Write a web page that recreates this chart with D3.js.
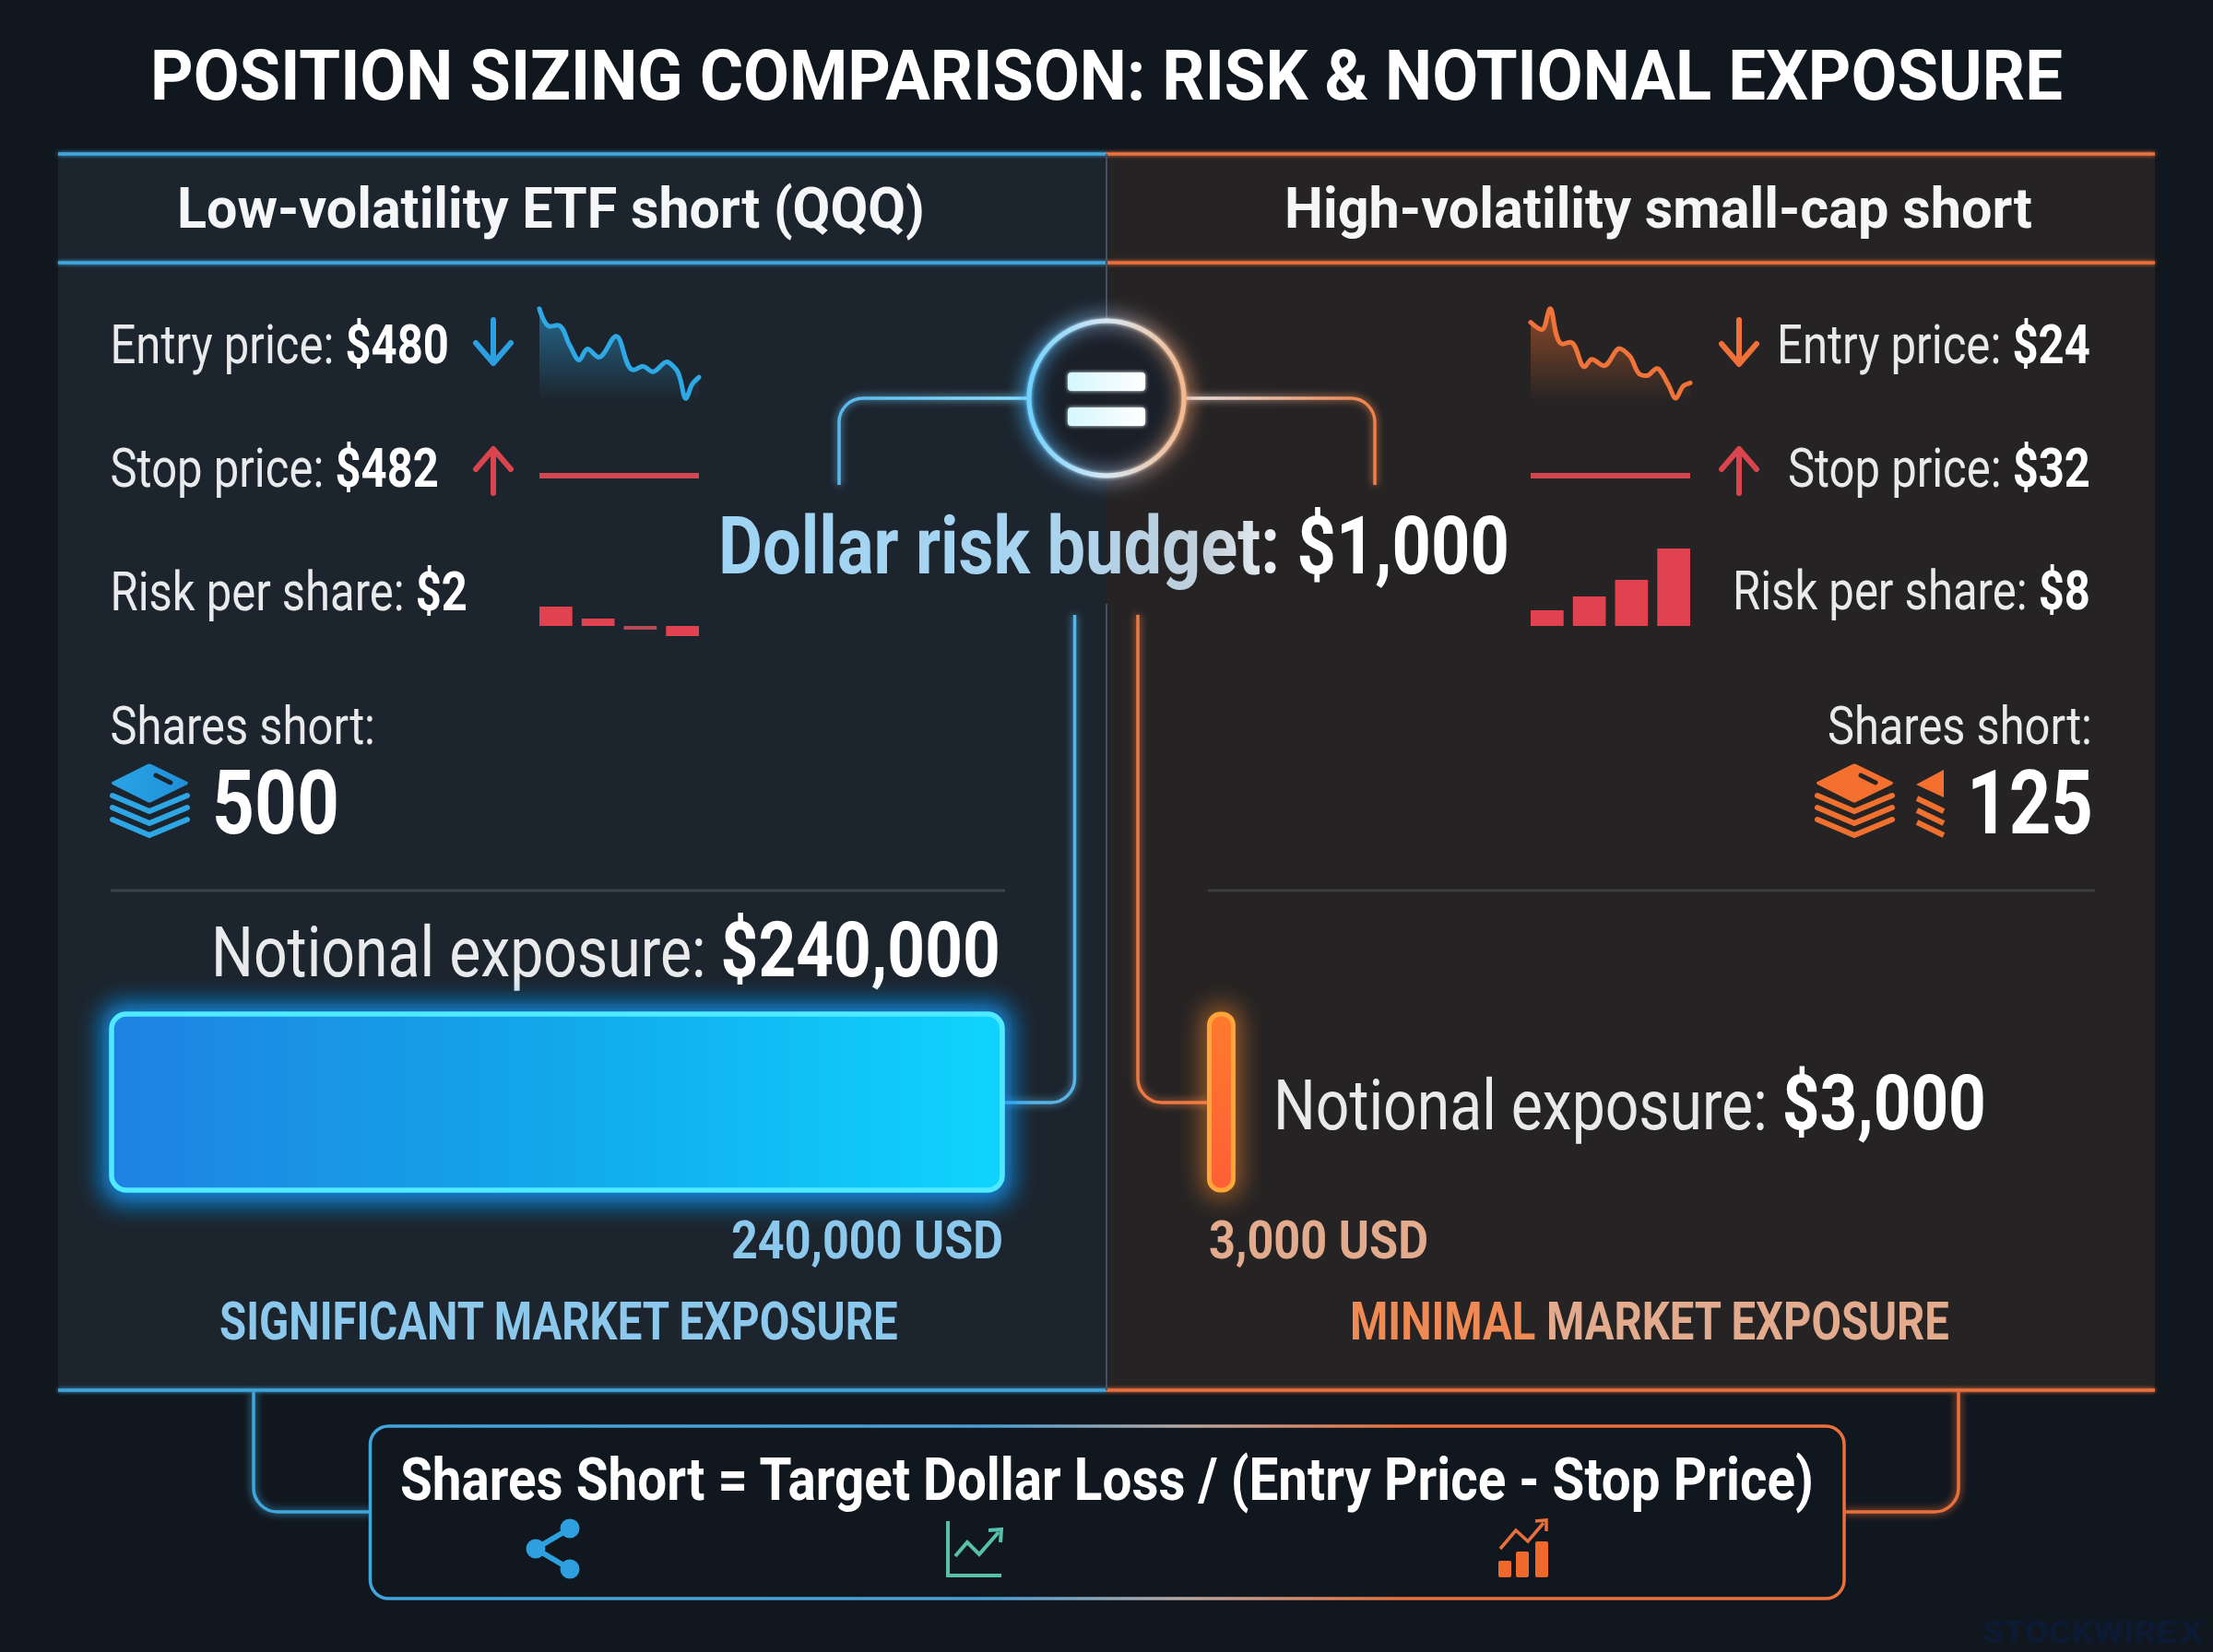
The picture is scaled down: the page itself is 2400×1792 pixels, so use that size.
<!DOCTYPE html>
<html>
<head>
<meta charset="utf-8">
<script src="https://cdn.jsdelivr.net/npm/d3@7"></script>
<style>
  html, body { margin: 0; padding: 0; background: #11171f; }
  svg { display: block; }
  text { font-family: Roboto, sans-serif; }
</style>
</head>
<body>
<script>
// DATA
const chartTitle = "POSITION SIZING COMPARISON: RISK & NOTIONAL EXPOSURE"
const sideNames = ["Low-volatility ETF short (QQQ)", "High-volatility small-cap short"]
const entryPrices = [480, 24]
const stopPrices = [482, 32]
const riskPerShare = [2, 8]
const sharesShort = [500, 125]
const notional = [240000, 3000]
const dollarBudget = 1000
const formula = "Shares Short = Target Dollar Loss / (Entry Price - Stop Price)"

// sparkline readings: session time 0-100, price index 0-100
const sparkTimeLow = [0, 6, 12, 19, 25, 30, 37, 48, 59, 65, 71, 80, 86, 92, 96, 100]
const sparkPriceLow = [100, 81, 82, 60, 44, 56, 47, 70, 33, 37, 31, 42, 33, 2, 18, 25]
const sparkTimeHigh = [0, 7, 12, 20, 25, 34, 38, 46, 56, 62, 69, 73, 79, 86, 91, 96, 100]
const sparkPriceHigh = [84, 76, 99, 60, 62, 35, 43, 36, 55, 47, 26, 25, 33, 16, 0, 14, 17]
const riskBarsLow = [21, 8, -4, -11]
const riskBarsHigh = [17, 32, 50, 84]

const [width, height] = [2400, 1792]
const colors = {
    bg: "#11171f", panelL: "#1c242d", panelR: "#252324",
    blue: "#3fa6dc", orange: "#e8703c", red: "#d9444f",
    softBlue: "#8cc8ec", softOrange: "#e2ab8e", white: "#ffffff", grey: "#e8eaec"
}
const money = d3.format("$,")
const plain = d3.format(",")

const svg = d3.select("body").append("svg")
    .attr("width", width).attr("height", height)
    .attr("viewBox", [0, 0, width, height])
const defs = svg.append("defs")

function gradient(id, stops, x1, y1, x2, y2) {
    const g = defs.append("linearGradient").attr("id", id)
        .attr("gradientUnits", "userSpaceOnUse")
        .attr("x1", x1).attr("y1", y1).attr("x2", x2).attr("y2", y2)
    stops.forEach(s => g.append("stop").attr("offset", s[0]).attr("stop-color", s[1]).attr("stop-opacity", s[2] ?? 1))
}
function glowFilter(id, dev) {
    const f = defs.append("filter").attr("id", id).attr("filterUnits", "userSpaceOnUse")
        .attr("x", 0).attr("y", 0).attr("width", width).attr("height", height)
    f.append("feGaussianBlur").attr("in", "SourceGraphic").attr("stdDeviation", dev).attr("result", "b")
    const m = f.append("feMerge")
    m.append("feMergeNode").attr("in", "b")
    m.append("feMergeNode").attr("in", "SourceGraphic")
}
glowFilter("glow2", 2)
glowFilter("glow4", 4)
defs.append("filter").attr("id", "blur14").attr("filterUnits", "userSpaceOnUse")
    .attr("x", 0).attr("y", 0).attr("width", width).attr("height", height)
    .append("feGaussianBlur").attr("stdDeviation", 14)
defs.append("filter").attr("id", "blur10").attr("filterUnits", "userSpaceOnUse")
    .attr("x", 0).attr("y", 0).attr("width", width).attr("height", height)
    .append("feGaussianBlur").attr("stdDeviation", 10)

gradient("barBlue", [[0, "#1f82e2"], [0.5, "#12a8ea"], [1, "#0fd4ff"]], 120, 0, 1088, 0)
gradient("barOrange", [[0, "#ff7a2e"], [1, "#ff5f35"]], 0, 1098, 0, 1293)
gradient("boxStroke", [[0, "#3fa6dc"], [0.42, "#4a9fd4"], [0.55, "#b9a8a4"], [0.7, "#e8703c"], [1, "#e8703c"]], 402, 0, 2000, 0)
gradient("ring", [[0, "#6fd2ff"], [0.5, "#d8e8f4"], [1, "#f4b88c"]], 1115, 0, 1285, 0)
gradient("ringHalo", [[0, "#3fb6ff"], [0.5, "#8ea4c8"], [1, "#f09a66"]], 1115, 0, 1285, 0)
gradient("linkL", [[0, "#5ab6ea"], [1, "#8fe2ff"]], 910, 0, 1115, 0)
gradient("linkR", [[0, "#e8e4e6"], [1, "#ec8048"]], 1285, 0, 1491, 0)
gradient("sparkFillL", [[0, "#2a8fc2", 0.6], [1, "#2a8fc2", 0]], 0, 340, 0, 436)
gradient("sparkFillR", [[0, "#c8602a", 0.6], [1, "#c8602a", 0]], 0, 340, 0, 436)
gradient("stackTopL", [[0, "#2aa4e6"], [1, "#1f8fd8"]], 120, 0, 205, 0)
gradient("equals", [[0, "#d6f6ff"], [1, "#ffffff"]], 1158, 0, 1242, 0)
// local text units, the budget line gets measured below
gradient("budgetText", [[0, "#9fd4f4"], [0.4, "#a8d4f0"], [0.62, "#c2cfdb"], [0.74, "#ffffff"], [1, "#ffffff"]], 0, 0, 1000, 0)

// squeeze the wider Roboto down to the condensed look of the picture
function fit(t, x0, x1, y) {
    const natural = t.node().getComputedTextLength()
    t.attr("transform", `translate(${x0},${y}) scale(${(x1 - x0) / natural},1)`)
    return t
}
function label(g, str, x0, x1, y, size, weight, fill) {
    const t = g.append("text")
        .attr("font-size", size).attr("font-weight", weight).attr("fill", fill)
        .text(str)
    return fit(t, x0, x1, y)
}
// plain words + bold figure on one text line
function mixed(g, a, b, x0, x1, y, size, sizeB, weightA = 400, fillA = colors.grey, fillB = colors.white) {
    const t = g.append("text").attr("font-size", size)
    t.append("tspan").attr("font-weight", weightA).attr("fill", fillA).text(a + " ")
    t.append("tspan").attr("font-weight", 700).attr("font-size", sizeB).attr("fill", fillB).text(b)
    return fit(t, x0, x1, y)
}
function elbow(pts, r) {
    const p = d3.path()
    p.moveTo(pts[0][0], pts[0][1])
    p.arcTo(pts[1][0], pts[1][1], pts[2][0], pts[2][1], r)
    p.lineTo(pts[2][0], pts[2][1])
    return p.toString()
}

// BACKGROUND + PANELS
svg.append("rect").attr("width", width).attr("height", height).attr("fill", colors.bg)
const panels = svg.append("g").attr("id", "panels")
panels.append("rect").attr("x", 63).attr("y", 167).attr("width", 1137).attr("height", 1341).attr("fill", colors.panelL)
panels.append("rect").attr("x", 1200).attr("y", 167).attr("width", 1137).attr("height", 1341).attr("fill", colors.panelR)
const rules = [
    [63, 1200, 167, colors.blue], [63, 1200, 285, colors.blue], [63, 1200, 1508, colors.blue],
    [1200, 2337, 167, colors.orange], [1200, 2337, 285, colors.orange], [1200, 2337, 1508, colors.orange]
]
panels.selectAll("line.rule").data(rules).join("line").attr("class", "rule")
    .attr("x1", d => d[0]).attr("x2", d => d[1]).attr("y1", d => d[2]).attr("y2", d => d[2])
    .attr("stroke", d => d[3]).attr("stroke-width", 3.5).attr("filter", "url(#glow2)")
panels.append("line").attr("x1", 1200).attr("x2", 1200).attr("y1", 167).attr("y2", 346).attr("stroke", "#46505c").attr("stroke-width", 2)
panels.append("line").attr("x1", 1200).attr("x2", 1200).attr("y1", 655).attr("y2", 1508).attr("stroke", "#46505c").attr("stroke-width", 2)
panels.append("line").attr("x1", 120).attr("x2", 1090).attr("y1", 966).attr("y2", 966).attr("stroke", "#3b424a").attr("stroke-width", 3)
panels.append("line").attr("x1", 1310).attr("x2", 2272).attr("y1", 966).attr("y2", 966).attr("stroke", "#3f3e3f").attr("stroke-width", 3)

// TITLE + HEADERS
const head = svg.append("g").attr("id", "headings")
label(head, chartTitle, 163, 2237, 108, 76, 700, colors.white)
label(head, sideNames[0], 192, 1003, 247, 61, 700, "#f4f6f8")
label(head, sideNames[1], 1393, 2204, 247, 61, 700, "#f4f6f8")

// PRICE ROWS
const rowPos = [
    [119.5, 487, 394], [119.5, 476, 528], [119.5, 507, 662],
    [1927, 2267, 394], [1939, 2267, 528], [1879, 2267, 661]
]
const rowText = [
    ["Entry price:", entryPrices[0]], ["Stop price:", stopPrices[0]], ["Risk per share:", riskPerShare[0]],
    ["Entry price:", entryPrices[1]], ["Stop price:", stopPrices[1]], ["Risk per share:", riskPerShare[1]]
]
const rows = svg.append("g").attr("id", "rows")
rowText.forEach((d, i) => {
    const p = rowPos[i]
    mixed(rows, d[0], money(d[1]), p[0], p[1], p[2], 59, 59)
})

// ARROWS
function arrow(g, x, yTail, yTip, color) {
    const dir = yTip > yTail ? -1 : 1
    g.append("path")
        .attr("d", `M${x},${yTail}L${x},${yTip}M${x - 19},${yTip + dir * 22}L${x},${yTip}L${x + 19},${yTip + dir * 22}`)
        .attr("fill", "none").attr("stroke", color).attr("stroke-width", 6)
        .attr("stroke-linecap", "round").attr("stroke-linejoin", "round")
}
const arrows = svg.append("g").attr("id", "arrows")
arrow(arrows, 535, 347, 394, "#2b9fe0")
arrow(arrows, 535, 535, 487, colors.red)
arrow(arrows, 1886, 347, 395, "#f0703a")
arrow(arrows, 1886, 535, 487, colors.red)

// SPARKLINES
function spark(id, times, prices, x0, x1, y0, y1, color, fill) {
    const g = svg.append("g").attr("id", id)
    const x = d3.scaleLinear().domain([0, 100]).range([x0, x1])
    const y = d3.scaleLinear().domain([0, 100]).range([y0, y1])
    const pts = times.map((t, i) => [t, prices[i]])
    g.append("path").datum(pts).attr("fill", fill)
        .attr("d", d3.area().x(d => x(d[0])).y0(y0 + 2).y1(d => y(d[1])))
    g.append("path").datum(pts).attr("fill", "none").attr("stroke", color).attr("stroke-width", 5)
        .attr("stroke-linejoin", "round").attr("stroke-linecap", "round")
        .attr("d", d3.line().x(d => x(d[0])).y(d => y(d[1])).curve(d3.curveCatmullRom.alpha(0.9)))
}
spark("sparkLow", sparkTimeLow, sparkPriceLow, 585, 758, 434, 335, "#2ea9e6", "url(#sparkFillL)")
spark("sparkHigh", sparkTimeHigh, sparkPriceHigh, 1660, 1833, 432, 334, "#f0743a", "url(#sparkFillR)")

// STOP LINES
function stopLine(price, x0, x1) {
    const y = d3.scaleLinear().domain([price - 1, price + 1]).range([526, 506])
    svg.append("line").attr("x1", x0).attr("x2", x1).attr("y1", y(price)).attr("y2", y(price))
        .attr("stroke", "#d2464f").attr("stroke-width", 6)
}
stopLine(stopPrices[0], 585, 758)
stopLine(stopPrices[1], 1660, 1833)

// RISK BARS
function riskBars(id, values, x0, x1, baseline) {
    const x = d3.scaleBand().domain(d3.range(values.length)).range([x0, x1]).paddingInner(0.22)
    const y = d3.scaleLinear().domain([0, 100]).range([baseline, baseline - 100])
    svg.append("g").attr("id", id).selectAll("rect").data(values).join("rect")
        .attr("x", (d, i) => x(i)).attr("width", x.bandwidth())
        .attr("y", d => Math.min(y(0), y(d))).attr("height", d => Math.abs(y(d) - y(0)))
        .attr("fill", d => d === -4 ? "#b84a55" : "#e0434f")
}
riskBars("riskLow", riskBarsLow, 585, 758, 679)
riskBars("riskHigh", riskBarsHigh, 1660, 1833, 679)

// SHARES
const shareText = svg.append("g").attr("id", "shares")
label(shareText, "Shares short:", 119.5, 407, 807, 58, 400, colors.grey)
label(shareText, "Shares short:", 1982, 2269, 807, 58, 400, colors.grey)
label(shareText, plain(sharesShort[0]), 230, 368, 904, 96, 700, colors.white)
label(shareText, plain(sharesShort[1]), 2133, 2270, 904, 96, 700, colors.white)

function stack(dx, top, line, slot) {
    const g = svg.append("g").attr("transform", `translate(${dx},0)`)
    g.append("path").attr("d", "M122,848Q120,849 122,851L160,870Q162,871 164,870L203,851Q205,849 203,848L164,829Q162,828 160,829Z").attr("fill", top)
    g.append("line").attr("x1", 169).attr("y1", 841).attr("x2", 185).attr("y2", 849)
        .attr("stroke", slot).attr("stroke-width", 5).attr("stroke-linecap", "round")
    ;[863, 876, 889].forEach(y => {
        g.append("path").attr("d", `M122,${y}L162,${y + 17}L203,${y}`)
            .attr("fill", "none").attr("stroke", line).attr("stroke-width", 6)
            .attr("stroke-linecap", "round").attr("stroke-linejoin", "round")
    })
}
stack(0, "url(#stackTopL)", "#2ea6e4", colors.panelL)
stack(1849, "#f56f2e", "#f07030", colors.panelR)
// the cut-off little stack next to 125
const cut = svg.append("g").attr("id", "stackCut")
cut.append("path").attr("d", "M2078,851L2108,835L2108,865Z").attr("fill", "#f56f2e")
;[866, 879, 892].forEach(y => {
    cut.append("path").attr("d", `M2079,${y}L2108,${y + 14}`).attr("fill", "none")
        .attr("stroke", "#f07030").attr("stroke-width", 6)
})

// CONNECTORS
const links = svg.append("g").attr("id", "links").attr("fill", "none")
links.append("path").attr("d", elbow([[910, 526], [910, 432], [1120, 432]], 26))
    .attr("stroke", "url(#linkL)").attr("stroke-width", 3.5).attr("filter", "url(#glow4)")
links.append("path").attr("d", elbow([[1491, 526], [1491, 432], [1280, 432]], 26))
    .attr("stroke", "url(#linkR)").attr("stroke-width", 3.5).attr("filter", "url(#glow4)")
links.append("path").attr("d", elbow([[1165.5, 667], [1165.5, 1196], [1088, 1196]], 26))
    .attr("stroke", "#5ab4e6").attr("stroke-width", 3.5).attr("filter", "url(#glow4)")
links.append("path").attr("d", elbow([[1234, 667], [1234, 1196], [1312, 1196]], 26))
    .attr("stroke", "#ec7a44").attr("stroke-width", 3.5).attr("filter", "url(#glow4)")
links.append("path").attr("d", elbow([[275, 1510], [275, 1640], [403, 1640]], 26))
    .attr("stroke", colors.blue).attr("stroke-width", 3.5).attr("filter", "url(#glow4)")
links.append("path").attr("d", elbow([[2124, 1510], [2124, 1640], [2000, 1640]], 26))
    .attr("stroke", colors.orange).attr("stroke-width", 3.5).attr("filter", "url(#glow4)")

// EQUALS BADGE
const badge = svg.append("g").attr("id", "badge")
badge.append("circle").attr("cx", 1200).attr("cy", 432).attr("r", 84).attr("fill", "#1a2029")
badge.append("circle").attr("cx", 1200).attr("cy", 432).attr("r", 85)
    .attr("fill", "none").attr("stroke", "url(#ringHalo)").attr("stroke-width", 10).attr("filter", "url(#blur10)")
badge.append("circle").attr("cx", 1200).attr("cy", 432).attr("r", 84)
    .attr("fill", "none").attr("stroke", "url(#ring)").attr("stroke-width", 5).attr("filter", "url(#glow2)")
badge.selectAll("rect").data([404, 442]).join("rect")
    .attr("x", 1158).attr("y", d => d).attr("width", 84).attr("height", 20).attr("rx", 4)
    .attr("fill", "url(#equals)").attr("filter", "url(#glow2)")

// BUDGET
const budget = svg.append("g").attr("id", "budget")
const budgetLine = mixed(budget, "Dollar risk budget:", money(dollarBudget), 779, 1637, 622, 88, 88, 700, "url(#budgetText)", "url(#budgetText)")
// gradient runs along the measured line, it sits in the text's own coordinates
d3.select("#budgetText").attr("x2", budgetLine.node().getComputedTextLength())

// NOTIONAL
const widthScale = d3.scaleLinear().domain([0, notional[0]]).range([14, 966])
const exposure = svg.append("g").attr("id", "exposure")
mixed(exposure, "Notional exposure:", money(notional[0]), 229, 1085, 1059, 76, 84)
mixed(exposure, "Notional exposure:", money(notional[1]), 1381, 2154, 1225, 76, 84)

// glow behind the notional bars, then the bars themselves
exposure.append("rect").attr("x", 111).attr("y", 1089).attr("height", 216).attr("rx", 20)
    .attr("width", widthScale(notional[0]) + 20).attr("fill", "#0f9bff").attr("opacity", 0.9).attr("filter", "url(#blur14)")
exposure.append("rect").attr("x", 1305).attr("y", 1092).attr("height", 206).attr("rx", 14)
    .attr("width", widthScale(notional[1]) + 13).attr("fill", "#ff8a2b").attr("opacity", 0.6).attr("filter", "url(#blur14)")
exposure.append("rect").attr("x", 121).attr("y", 1100).attr("height", 191).attr("rx", 16)
    .attr("width", widthScale(notional[0])).attr("fill", "url(#barBlue)")
    .attr("stroke", "#4feaff").attr("stroke-width", 5.5)
exposure.append("rect").attr("x", 1311.5).attr("y", 1100).attr("height", 191).attr("rx", 12)
    .attr("width", widthScale(notional[1])).attr("fill", "url(#barOrange)")
    .attr("stroke", "#ffa63a").attr("stroke-width", 5)

label(exposure, plain(notional[0]) + " USD", 793, 1088, 1365, 58, 700, colors.softBlue)
label(exposure, plain(notional[1]) + " USD", 1311, 1549, 1365, 58, 700, colors.softOrange)
label(exposure, "SIGNIFICANT MARKET EXPOSURE", 238, 974, 1453, 57, 700, colors.softBlue)
mixed(exposure, "MINIMAL", "MARKET EXPOSURE", 1464, 2114, 1453, 57, 57, 700, "#f08a55", colors.softOrange)

// FORMULA BOX
const box = svg.append("g").attr("id", "formula")
box.append("rect").attr("x", 401.5).attr("y", 1547).attr("width", 1598.5).attr("height", 187).attr("rx", 20)
    .attr("fill", "#11171e").attr("stroke", "url(#boxStroke)").attr("stroke-width", 3.5)
label(box, formula, 434, 1967, 1627, 64, 700, colors.white)

// share icon
const shareIcon = box.append("g")
shareIcon.append("path").attr("d", "M618,1658L581,1680L618,1702").attr("fill", "none").attr("stroke", "#2ea0e0").attr("stroke-width", 6)
shareIcon.selectAll("circle").data([[618, 1658], [581, 1680], [618, 1702]]).join("circle")
    .attr("cx", d => d[0]).attr("cy", d => d[1]).attr("r", 10.5).attr("fill", "#2ea0e0")

// line chart icon
const teal = "#58bfaa"
box.append("path").attr("d", "M1028,1650L1028,1709L1086,1709").attr("fill", "none").attr("stroke", teal).attr("stroke-width", 4)
box.append("path").attr("d", "M1036,1688L1049,1673L1062,1686L1083,1662").attr("fill", "none").attr("stroke", teal).attr("stroke-width", 4)
box.append("path").attr("d", "M1072,1660L1086,1659L1085,1673").attr("fill", "none").attr("stroke", teal).attr("stroke-width", 4)

// bar chart icon
const iconBars = box.append("g")
iconBars.selectAll("rect").data([[1625, 1693], [1644, 1683], [1665, 1672]]).join("rect")
    .attr("x", d => d[0]).attr("y", d => d[1]).attr("width", 14).attr("height", d => 1711 - d[1]).attr("rx", 2)
    .attr("fill", "#f0692c")
box.append("path").attr("d", "M1627,1680L1644,1660L1657,1672L1674,1652").attr("fill", "none").attr("stroke", "#e8703c").attr("stroke-width", 3.5)
box.append("path").attr("d", "M1665,1650L1677,1649L1677,1661").attr("fill", "none").attr("stroke", "#e8703c").attr("stroke-width", 3.5)

// WATERMARK
const mark = svg.append("g").attr("id", "watermark")
label(mark, "STOCKWIRE", 2150, 2360, 1782, 34, 800, "#0d1a33").attr("font-family", "Inter")
label(mark, "X", 2364, 2390, 1782, 34, 800, "#0d1a33").attr("font-family", "Inter")
</script>
</body>
</html>
